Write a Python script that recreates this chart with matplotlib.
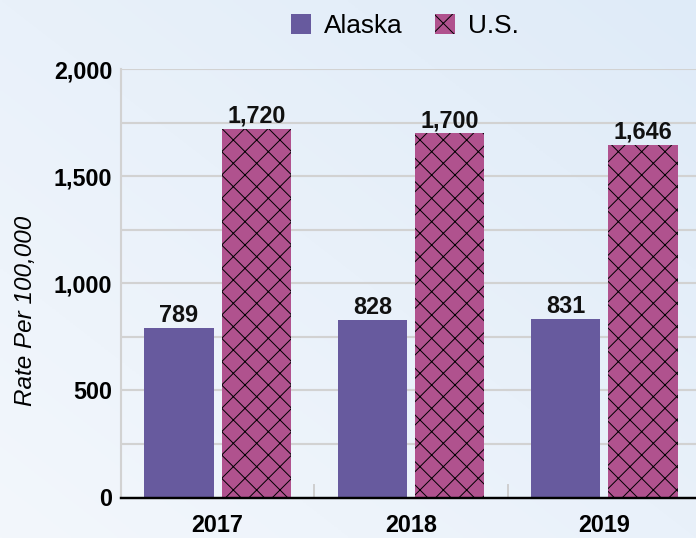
import numpy as np
from matplotlib import pyplot as plt
from matplotlib.patches import Patch

years = ["2017", "2018", "2019"]
alaska = [789, 828, 831]
us = [1720, 1700, 1646]
series_names = ["Alaska", "U.S."]
ytick_vals = [0, 500, 1000, 1500, 2000]
ytick_labels = ["0", "500", "1,000", "1,500", "2,000"]

purple = "#675a9e"
magenta = "#b0528e"

plt.rcParams['hatch.linewidth'] = 1.0
plt.rcParams['hatch.color'] = "black"

DPI = 70
fig = plt.figure(figsize=(696 / DPI, 538 / DPI), dpi=DPI)

# light blue gradient background
bg = fig.add_axes([0, 0, 1, 1], zorder=-10)
gx, gy = np.meshgrid(np.linspace(0, 1, 200), np.linspace(0, 1, 200))
g = 0.5 * gx + 0.5 * gy
c0 = np.array([0xf3, 0xf7, 0xfc]) / 255.0
c1 = np.array([0xdf, 0xeb, 0xf8]) / 255.0
img = c0[None, None, :] * (1 - g[..., None]) + c1[None, None, :] * g[..., None]
bg.imshow(img, origin="lower", aspect="auto", extent=[0, 1, 0, 1])
bg.axis("off")

# axes: left at 121px, right past the edge, baseline at 497, top (2000) at 69
left = 121 / 696
width = (701 - 121) / 696
bottom = (538 - 497.5) / 538
height = (497.5 - 69) / 538
ax = fig.add_axes([left, bottom, width, height])
ax.patch.set_alpha(0)

x = np.arange(len(years))
w = 0.36
off = 0.2
ax.bar(x - off, alaska, w, color=purple, zorder=3)
ax.bar(x + off, us, w, color=magenta, hatch="x", edgecolor="black", linewidth=0, zorder=3)

for xi, v in zip(x, alaska):
    ax.text(xi - off, v + 5, f"{v:,}", ha="center", va="bottom", fontsize=24,
            fontweight="bold", family="Liberation Sans", color="#111111")
for xi, v in zip(x, us):
    ax.text(xi + off, v + 5, f"{v:,}", ha="center", va="bottom", fontsize=24,
            fontweight="bold", family="Liberation Sans", color="#111111")

ax.set_xlim(-0.5, 2.5)
ax.set_ylim(0, 2000)
for gv in np.arange(250, 2001, 250):
    ax.axhline(gv, color="#d2d2d2", lw=2.2, zorder=1)

ax.set_yticks(ytick_vals)
ax.set_yticklabels(ytick_labels, fontsize=24, fontweight="bold", family="Liberation Sans")
ax.tick_params(axis="y", length=0, pad=9)

ax.set_xticks(x)
ax.set_xticklabels(years, fontsize=24, fontweight="bold", family="Liberation Sans")
ax.tick_params(axis="x", length=0, pad=17)

# short separators between year groups
for b in [0.5, 1.5]:
    ax.plot([b, b], [0, 60], color="#cfcfcf", lw=2, zorder=2, clip_on=False)

for s in ["top", "right"]:
    ax.spines[s].set_visible(False)
ax.spines["left"].set_color("#d2d2d2")
ax.spines["left"].set_linewidth(2.2)
ax.spines["bottom"].set_color("black")
ax.spines["bottom"].set_linewidth(2.5)
ax.spines["bottom"].set_zorder(4)

ax.set_ylabel("Rate Per 100,000", fontsize=25, fontstyle="italic",
              family="Liberation Sans", labelpad=12)
ax.yaxis.set_label_coords(-0.145, 0.435)

handles = [Patch(facecolor=purple, label=series_names[0]),
           Patch(facecolor=magenta, hatch="x", edgecolor="black", linewidth=0, label=series_names[1])]
fig.legend(handles=handles, loc="center", bbox_to_anchor=(405 / 696, 1 - 26 / 538),
           ncol=2, frameon=False, handlelength=0.76, handleheight=0.8,
           handletextpad=0.5, columnspacing=1.25,
           prop={"family": "Liberation Sans", "size": 27})

fig.savefig("out.png", dpi=DPI)
